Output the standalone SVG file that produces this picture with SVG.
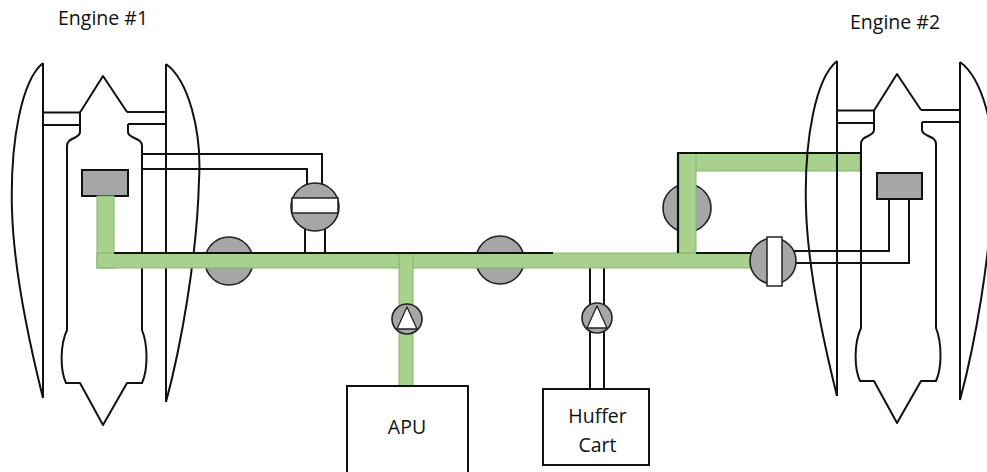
<svg xmlns="http://www.w3.org/2000/svg" xmlns:xlink="http://www.w3.org/1999/xlink" width="987" height="472" viewBox="0 0 987 472">
  <style>
    .ln { fill: none; stroke: #111; stroke-width: 2; stroke-linejoin: round; }
    .duct { fill: none; stroke: #111; stroke-width: 2; }
    .edge { fill: none; stroke: #111; stroke-width: 2.2; }
    .pipe { fill: #a9d18e; stroke: #86b36a; stroke-width: 1; }
    .valve { fill: #a6a6a6; stroke: #222; stroke-width: 1.6; }
    .bar { fill: #fff; stroke: #222; stroke-width: 1.5; }
    .box { fill: #fff; stroke: #111; stroke-width: 2; }
    .gbox { fill: #a6a6a6; stroke: #111; stroke-width: 2; }
    .tri { fill: #fff; stroke: #222; stroke-width: 1.3; stroke-linejoin: round; }
    .lbl { font-family: "Open Sans", "Noto Sans", sans-serif; font-size: 19.5px; fill: #111; }
  </style>
  <defs>
    <!-- turbofan outline: nacelle halves, struts and core -->
    <g id="engine-outline" class="ln">
      <path d="M43,63 L43,398 M43,63 C22,80 10,140 12,210 C14,280 36,370 43,398"/>
      <path d="M166,64 L166,402 M166,64 C188,80 202,130 199,180 C197,260 180,350 166,402"/>
      <path d="M43,112.5 L80,112.5 M43,125 L80,125 M127,112 L166,112 M128,124 L166,124"/>
      <path d="M128,124 L128,132 C128,139 142,137 142,146 L142,330 C148,345 148,370 142,383 L127,383 L103,425 L80,383 L66,383 C60,370 60,345 67,330 L67,146 C67,137 80,139 80,132 L80,112.5 L103,76 L127,112"/>
    </g>
  </defs>

  <rect width="987" height="472" fill="#fff"/>

  <!-- Engine #1 -->
  <g id="engine-1">
    <use xlink:href="#engine-outline" href="#engine-outline"/>
    <rect class="gbox" x="82" y="170" width="46" height="26"/>
    <text class="lbl" x="58" y="25">Engine #1</text>
  </g>

  <!-- plain (unpressurised) ducts -->
  <g id="connectors">
    <path class="duct" d="M142,154 L322,154 L322,185 M142,169 L307,169 L307,185"/>
    <path class="duct" d="M305,229 L305,253 M325,229 L325,253"/>
    <path class="duct" d="M590,268 L590,389 M604,268 L604,389"/>
    <path class="duct" d="M794,251 L889,251 L889,199 M795,263 L909,263 L909,199"/>
  </g>

  <!-- valves sitting under the active line -->
  <g id="valve-1"><circle class="valve" cx="229" cy="261" r="24"/></g>
  <g id="valve-2"><circle class="valve" cx="500" cy="260" r="24"/></g>
  <g id="valve-3"><circle class="valve" cx="687" cy="208" r="24"/></g>
  <g id="valve-5">
    <circle class="valve" cx="315" cy="207" r="24"/>
    <rect class="bar" x="292" y="198" width="46" height="15"/>
  </g>

  <!-- active (pressurised) bleed air path -->
  <g id="bleed-path">
    <rect class="pipe" x="97" y="196" width="17" height="72"/>
    <rect class="pipe" x="97" y="253" width="655" height="15"/>
    <rect class="pipe" x="678" y="153" width="182" height="18"/>
    <rect class="pipe" x="678" y="153" width="18" height="100"/>
    <rect class="pipe" x="399" y="253" width="14" height="133"/>
    <path class="edge" d="M114,253 L553,253 M696,253 L752,253"/>
    <path class="edge" d="M678,253 L678,153 L860,153"/>
  </g>

  <g id="valve-4">
    <circle class="valve" cx="773" cy="261" r="23"/>
    <rect class="bar" x="767" y="237" width="15" height="49"/>
  </g>

  <g id="pump-apu">
    <circle class="valve" cx="407" cy="319" r="15"/>
    <path class="tri" d="M407,307 L417,329 L397,329 Z"/>
  </g>
  <g id="pump-huffer">
    <circle class="valve" cx="597" cy="318" r="15"/>
    <path class="tri" d="M597,306 L607,328 L587,328 Z"/>
  </g>

  <!-- Engine #2 -->
  <g id="engine-2">
    <use xlink:href="#engine-outline" href="#engine-outline" transform="translate(794,-2)"/>
    <rect class="gbox" x="877" y="173" width="45" height="26"/>
    <text class="lbl" x="850" y="28.5">Engine #2</text>
  </g>

  <g id="apu">
    <rect class="box" x="347" y="386" width="121" height="100"/>
    <text class="lbl" x="407" y="434" text-anchor="middle">APU</text>
  </g>

  <g id="huffer-cart">
    <rect class="box" x="543" y="389" width="106" height="76"/>
    <text class="lbl" x="597.5" y="423" text-anchor="middle">Huffer</text>
    <text class="lbl" x="597.5" y="451.5" text-anchor="middle">Cart</text>
  </g>
</svg>
